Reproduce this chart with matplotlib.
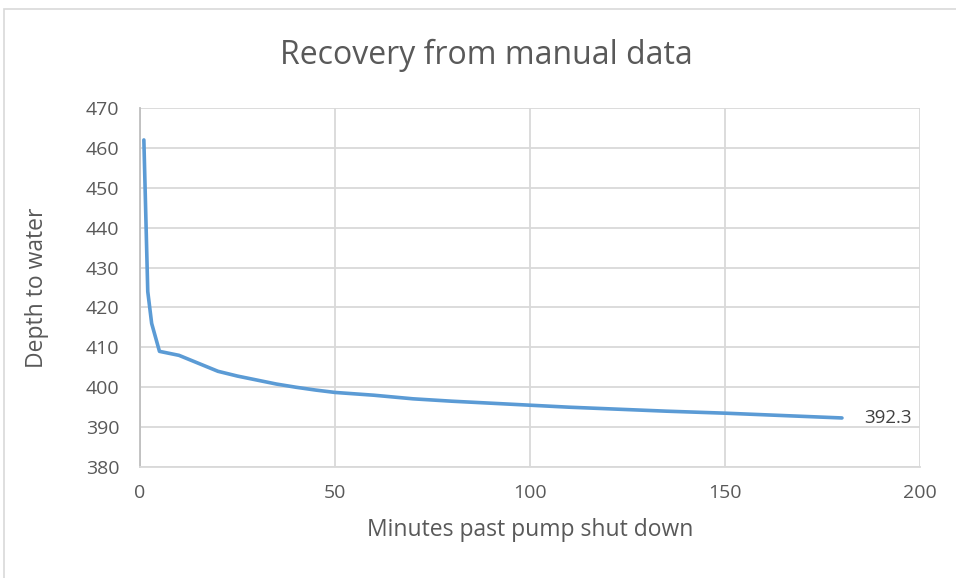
import matplotlib.pyplot as plt
from matplotlib.patches import Rectangle

# Manual recovery readings
minutes = [1, 2, 3, 4, 5, 10, 15, 20, 25, 30, 35, 40, 45, 50, 60, 70,
           80, 90, 100, 110, 120, 135, 150, 165, 180]
depth = [462, 424, 416, 412.5, 409, 408, 406, 404, 402.8, 401.8, 400.8, 400,
         399.3, 398.7, 398, 397.1, 396.5, 396, 395.5, 395, 394.6, 394,
         393.5, 392.9, 392.3]

plt.rcParams['font.family'] = ['Open Sans', 'DejaVu Sans']
text_color = '#595959'

fig = plt.figure(figsize=(9.56, 5.78), dpi=100)
ax = fig.add_axes([0.1464, 0.192, 0.8159, 0.6211])

ax.plot(minutes, depth, color='#5B9BD5', linewidth=2.6,
        solid_capstyle='round', solid_joinstyle='round')
ax.annotate(f'{depth[-1]}', (minutes[-1], depth[-1]), xytext=(16, 0),
            textcoords='offset points', va='center', ha='left',
            fontsize=13.5, color='#404040')

ax.set_xlim(0, 200)
ax.set_ylim(380, 470)
ax.set_xticks(range(0, 201, 50))
ax.set_yticks(range(380, 471, 10))
ax.grid(True, color='#D9D9D9', linewidth=1.3)
ax.set_axisbelow(True)
ax.tick_params(length=0, labelsize=14, colors=text_color)
ax.tick_params(axis='y', pad=15)
ax.tick_params(axis='x', pad=12)
for side in ['top', 'right']:
    ax.spines[side].set_visible(False)
ax.spines['left'].set_color('#BFBFBF')
ax.spines['bottom'].set_color('#D9D9D9')
ax.spines['left'].set_linewidth(1.3)
ax.spines['bottom'].set_linewidth(1.3)

ax.set_xlabel('Minutes past pump shut down', fontsize=16.5, color=text_color, labelpad=12)
ax.set_ylabel('Depth to water', fontsize=16.5, color=text_color, labelpad=26)
fig.text(0.509, 0.905, 'Recovery from manual data', ha='center', va='center',
         fontsize=23, color=text_color)

# outer chart border
fig.patches.append(Rectangle((4 / 956, -0.05), 1.1, 1 - 9 / 578 + 0.05,
                             transform=fig.transFigure, fill=False,
                             edgecolor='#D9D9D9', linewidth=1.2))

fig.savefig('out.png', dpi=100)
